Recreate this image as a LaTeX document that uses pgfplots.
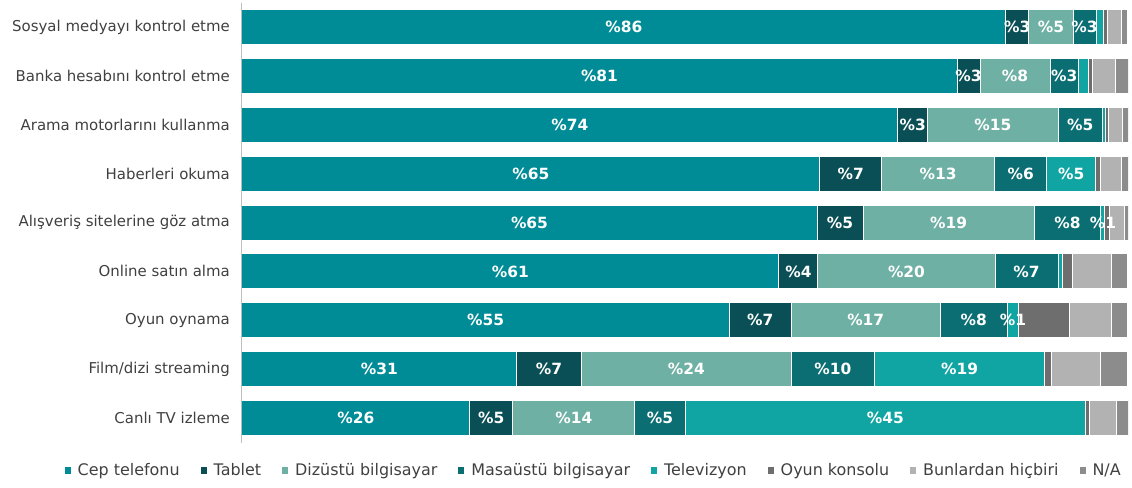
\documentclass[border=0pt]{standalone}
\usepackage{pgfplots}
\pgfplotsset{compat=1.18}
\usepackage{pgfplotstable}
\usepackage{fontspec}
\setmainfont{DejaVu Sans}
\definecolor{cCep}{RGB}{0,140,150}
\definecolor{cTab}{RGB}{10,79,85}
\definecolor{cDiz}{RGB}{111,176,165}
\definecolor{cMas}{RGB}{10,110,114}
\definecolor{cTv}{RGB}{16,165,162}
\definecolor{cOyun}{RGB}{110,110,110}
\definecolor{cBun}{RGB}{178,178,178}
\definecolor{cNa}{RGB}{140,140,140}
\definecolor{cTxt}{RGB}{64,64,64}

\pgfplotstableread{
y x lab
1 86.2 \%86
2 80.7 \%81
3 74.0 \%74
4 65.2 \%65
5 64.9 \%65
6 60.6 \%61
7 55.0 \%55
8 31.0 \%31
9 25.7 \%26
}\tCep
\pgfplotstableread{
y x lab
1 2.6 \%3
2 2.6 \%3
3 3.4 \%3
4 7.0 \%7
5 5.2 \%5
6 4.4 \%4
7 7.0 \%7
8 7.3 \%7
9 4.85 \%5
}\tTab
\pgfplotstableread{
y x lab
1 5.0 \%5
2 7.9 \%8
3 14.7 \%15
4 12.75 \%13
5 19.3 \%19
6 20.0 \%20
7 16.8 \%17
8 23.7 \%24
9 13.8 \%14
}\tDiz
\pgfplotstableread{
y x lab
1 2.6 \%3
2 3.2 \%3
3 5.0 \%5
4 5.9 \%6
5 7.55 \%8
6 7.1 \%7
7 7.6 \%8
8 9.4 \%10
9 5.65 \%5
}\tMas
\pgfplotstableread{
y x lab
1 0.8 {}
2 1.1 {}
3 0.4 {}
4 5.5 \%5
5 0.45 \%1
6 0.55 {}
7 1.25 \%1
8 19.2 \%19
9 45.25 \%45
}\tTv
\pgfplotstableread{
y x lab
1 0.5 {}
2 0.5 {}
3 0.35 {}
4 0.55 {}
5 0.55 {}
6 1.1 {}
7 5.8 {}
8 0.8 {}
9 0.45 {}
}\tOyun
\pgfplotstableread{
y x lab
1 1.6 {}
2 2.6 {}
3 1.5 {}
4 2.4 {}
5 1.7 {}
6 4.4 {}
7 4.7 {}
8 5.5 {}
9 3.05 {}
}\tBun
\pgfplotstableread{
y x lab
1 0.6 {}
2 1.4 {}
3 0.7 {}
4 0.7 {}
5 0.35 {}
6 1.8 {}
7 1.8 {}
8 3.0 {}
9 1.25 {}
}\tNa

\begin{document}
\begin{tikzpicture}
\begin{axis}[
  at={(0,0)}, anchor=south west,
  scale only axis, width=886bp, height=440bp,
  xbar stacked, bar width=35bp,
  xmin=0, xmax=100, ymin=0.5, ymax=9.5, y dir=reverse,
  axis x line=none, axis y line*=left,
  y axis line style={-, draw=black!25, line width=1bp},
  ytick={1,...,9},
  yticklabels={Sosyal medyayı kontrol etme, Banka hesabını kontrol etme, Arama motorlarını kullanma, Haberleri okuma, Alışveriş sitelerine göz atma, Online satın alma, Oyun oynama, Film/dizi streaming, Canlı TV izleme},
  major tick length=0pt,
  yticklabel style={font=\fontsize{15}{17}\selectfont, text=cTxt, inner sep=0pt, xshift=-12bp},
  every axis plot/.append style={draw=white, line width=1bp},
  point meta=explicit symbolic,
  nodes near coords,
  every node near coord/.append style={font=\bfseries\fontsize{15.5}{17}\selectfont, text=white, anchor=center, inner sep=0pt},
  legend columns=8,
  legend style={draw=none, fill=none, at={(0.397,-0.0625)}, anchor=center, font=\fontsize{16}{18}\selectfont, text=cTxt,
    /tikz/every even column/.append style={column sep=19bp},
    /tikz/every odd column/.append style={column sep=5bp}},
  legend image code/.code={\fill[#1, draw=none] (0bp,-3.5bp) rectangle (6bp,3.5bp);},
]
\addplot[fill=cCep] table[x=x, y=y, meta=lab]{\tCep};
\addplot[fill=cTab] table[x=x, y=y, meta=lab]{\tTab};
\addplot[fill=cDiz] table[x=x, y=y, meta=lab]{\tDiz};
\addplot[fill=cMas] table[x=x, y=y, meta=lab]{\tMas};
\addplot[fill=cTv] table[x=x, y=y, meta=lab]{\tTv};
\addplot[fill=cOyun] table[x=x, y=y, meta=lab]{\tOyun};
\addplot[fill=cBun] table[x=x, y=y, meta=lab]{\tBun};
\addplot[fill=cNa] table[x=x, y=y, meta=lab]{\tNa};
\legend{Cep telefonu, Tablet, Dizüstü bilgisayar, Masaüstü bilgisayar, Televizyon, Oyun konsolu, Bunlardan hiçbiri, N/A}
\end{axis}
\path[use as bounding box] (-242bp,-45.5bp) rectangle (890bp,442.5bp);
\end{tikzpicture}
\end{document}
